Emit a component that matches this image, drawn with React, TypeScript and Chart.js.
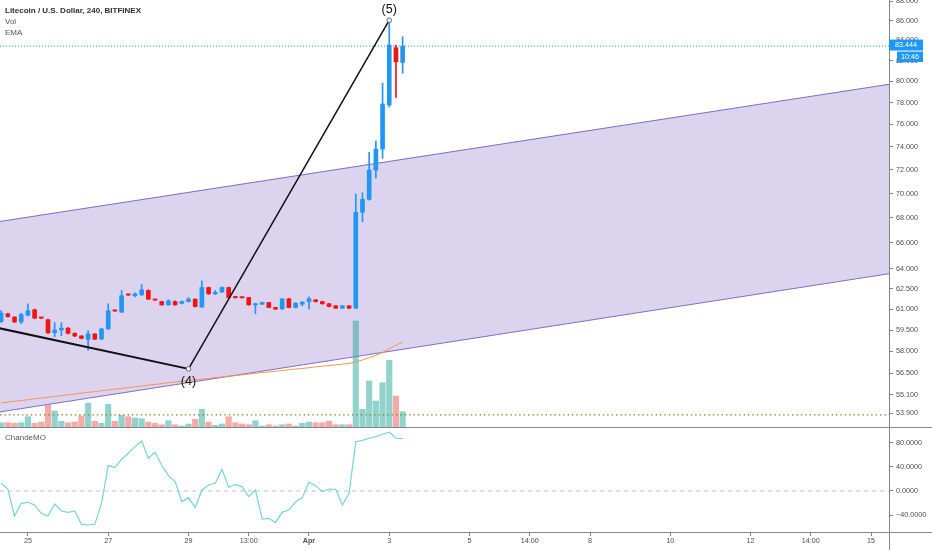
import React, { useEffect, useRef } from 'react';
import { Chart, registerables } from 'chart.js';

Chart.register(...registerables);

// ---------- text ----------
const TITLE = 'Litecoin / U.S. Dollar, 240, BITFINEX';
const LEGEND_ITEMS = ['Vol', 'EMA'];
const OSC_TITLE = 'ChandeMO';
const COUNTDOWN = '10:46';

// ---------- time axis (days relative to 25 Mar 00:00, candles of 4h) ----------
const FIRST_CANDLE_DAY = -16 / 24;
const CANDLE_DAYS = 4 / 24;

// ---------- candles ----------
const opens = [60.10, 60.66, 60.42, 60.08, 60.56, 60.95, 60.38, 60.23, 59.31, 59.50, 59.63, 59.27, 59.08, 58.84, 59.22, 58.86, 59.58, 60.90, 60.78, 62.07, 61.98, 62.05, 62.37, 61.70, 61.55, 61.31, 61.55, 61.42, 61.55, 61.73, 61.15, 62.59, 62.12, 62.25, 62.59, 61.87, 61.86, 61.85, 61.31, 61.36, 61.48, 61.12, 61.02, 61.75, 61.12, 61.36, 61.55, 61.68, 61.55, 61.39, 61.24, 61.07, 61.24, 61.07, 68.46, 69.52, 71.99, 73.81, 77.79, 83.28, 81.84];
const highs = [60.90, 60.70, 60.46, 60.70, 61.39, 61.00, 60.40, 60.28, 60.03, 60.03, 59.70, 59.30, 59.10, 59.45, 59.25, 59.62, 61.39, 60.93, 62.37, 62.10, 62.20, 62.81, 62.42, 61.72, 61.58, 61.68, 61.60, 61.60, 61.85, 61.76, 63.09, 62.62, 62.37, 62.65, 62.62, 61.88, 61.87, 61.86, 61.44, 61.52, 61.50, 61.14, 61.78, 61.78, 61.47, 61.56, 61.90, 61.70, 61.58, 61.42, 61.26, 61.27, 61.26, 69.96, 70.07, 73.52, 74.52, 79.83, 86.05, 83.55, 84.38];
const lows = [60.05, 60.42, 60.03, 59.95, 60.50, 60.30, 60.30, 59.25, 59.03, 59.10, 59.22, 59.03, 58.88, 58.09, 58.82, 58.82, 59.55, 60.83, 60.75, 62.00, 61.90, 62.00, 61.70, 61.63, 61.28, 61.28, 61.28, 61.38, 61.52, 61.15, 61.12, 62.08, 62.08, 62.22, 61.80, 61.80, 61.80, 61.28, 60.66, 61.33, 61.10, 60.97, 60.98, 61.08, 61.08, 61.24, 61.02, 61.52, 61.36, 61.16, 61.04, 61.04, 61.04, 61.03, 67.69, 69.45, 71.31, 72.99, 77.60, 78.50, 80.78];
const closes = [60.71, 60.46, 60.08, 60.61, 60.88, 60.35, 60.35, 59.31, 59.50, 59.63, 59.27, 59.08, 58.91, 59.22, 58.86, 59.58, 60.88, 60.86, 61.98, 62.03, 62.12, 62.42, 61.73, 61.66, 61.31, 61.60, 61.31, 61.55, 61.73, 61.19, 62.59, 62.12, 62.23, 62.59, 61.85, 61.84, 61.83, 61.31, 61.36, 61.48, 61.12, 61.00, 61.75, 61.12, 61.44, 61.51, 61.75, 61.55, 61.39, 61.19, 61.07, 61.24, 61.07, 68.46, 69.52, 71.99, 73.81, 77.88, 83.55, 81.90, 83.444];
// volume, thousand LTC
const volumes = [4.3, 4.3, 3.7, 4.3, 10.3, 3.7, 5.0, 21.7, 16.0, 5.7, 4.3, 5.0, 11.0, 23.7, 5.7, 3.7, 22.7, 5.7, 11.7, 10.3, 9.0, 8.3, 5.0, 3.7, 2.3, 6.3, 2.3, 1.0, 3.0, 7.7, 17.7, 5.0, 1.7, 3.0, 10.3, 4.3, 3.0, 2.3, 6.3, 1.0, 2.3, 1.0, 2.3, 3.0, 1.0, 3.7, 5.0, 4.3, 4.3, 5.7, 2.3, 2.3, 2.3, 106.0, 17.7, 46.0, 26.0, 44.3, 66.7, 31.0, 15.3];
const ema = [54.55, 54.60, 54.66, 54.71, 54.76, 54.82, 54.87, 54.92, 54.97, 55.03, 55.08, 55.13, 55.19, 55.24, 55.29, 55.35, 55.40, 55.45, 55.50, 55.56, 55.61, 55.66, 55.72, 55.77, 55.82, 55.88, 55.93, 55.98, 56.03, 56.08, 56.12, 56.17, 56.22, 56.27, 56.32, 56.36, 56.41, 56.46, 56.51, 56.56, 56.60, 56.65, 56.70, 56.75, 56.80, 56.84, 56.89, 56.94, 56.99, 57.04, 57.08, 57.13, 57.18, 57.29, 57.42, 57.57, 57.73, 57.93, 58.19, 58.43, 58.66];
const cmo = [12.7, 3.3, -41.3, -20.4, -18.7, -23.1, -36.9, -41.3, -21.5, -33.1, -35.3, -33.1, -55.1, -56.2, -55.1, -20.4, 41.9, 38.6, 52.3, 62.3, 73.3, 82.6, 54.0, 63.9, 43.0, 25.3, 15.4, -17.6, -11.0, -27.5, 1.7, 9.9, 12.7, 35.8, 6.1, 11.0, 7.2, -9.4, 1.7, -46.3, -45.2, -52.3, -35.3, -31.4, -17.6, -11.0, 14.3, 8.8, -1.1, 3.3, 2.8, -23.1, -3.9, 81.5, 83.7, 87.1, 89.8, 93.7, 97.0, 87.1, 86.4];

// ---------- drawings ----------
const channelDays = [-0.70, 21.45];
const channelUpper = [67.71, 79.73];
const channelLower = [53.97, 63.63];
const waveDays = [-0.70, 4.0, 9.0];
const wavePrices = [59.62, 56.81, 86.05];
const waveLabels = ['', '(4)', '(5)'];
const supportLevel = 53.78;

// ---------- axes ----------
const priceTicks = [53.9, 55.1, 56.5, 58, 59.5, 61, 62.5, 64, 66, 68, 70, 72, 74, 76, 78, 80, 82, 84, 86, 88];
const cmoTicks = [-40, 0, 40, 80];
const xTickDays = [0, 2, 4, 5.5, 7, 9, 11, 12.5, 14, 16, 18, 19.5, 21];
const xTickLabels = ['25', '27', '29', '13:00', 'Apr', '3', '5', '14:00', '8', '10', '12', '14:00', '15'];

// ---------- view ----------
const X_MIN = -0.695;
const X_MAX = 21.447;
const PRICE_MIN = 53.01;
const PRICE_MAX = 88.15;
const VOL_MAX = 427;
const CMO_MIN = -67.8;
const CMO_MAX = 104.1;

const W = 932;
const MAIN_H = 427;
const OSC_H = 123;
const AXIS_W = 43;
const XAXIS_H = 18;

const FONT = "'Liberation Sans', Arial, sans-serif";
const AXIS_COLOR = '#858585';
const TEXT_COLOR = '#4d4d4d';
const UP = '#2196F3';
const DOWN = '#ef1515';
const VOL_UP = 'rgba(38,166,154,0.5)';
const VOL_DOWN = 'rgba(239,83,80,0.5)';

const candleDays = opens.map((_, i) => FIRST_CANDLE_DAY + i * CANDLE_DAYS);
const isUp = opens.map((o, i) => closes[i] >= o);

const yAxisFit = (s: any) => {
  s.width = AXIS_W;
  s.paddingTop = 0;
  s.paddingBottom = 0;
};

const tickFont = { family: FONT, size: 7.2 };

const mainOverlay = {
  id: 'mainOverlay',
  afterDraw(chart: any) {
    const { ctx, chartArea, scales } = chart;
    const xs = scales.x;
    const ys = scales.y;
    ctx.save();
    ctx.strokeStyle = AXIS_COLOR;
    ctx.lineWidth = 1;
    ctx.beginPath();
    ctx.moveTo(chartArea.right + 0.5, 0);
    ctx.lineTo(chartArea.right + 0.5, chart.height);
    ctx.stroke();

    ctx.fillStyle = '#111';
    ctx.font = `12.5px ${FONT}`;
    ctx.textAlign = 'center';
    ctx.textBaseline = 'middle';
    waveLabels.forEach((lab, i) => {
      if (!lab) return;
      const px = xs.getPixelForValue(waveDays[i]);
      const py = ys.getPixelForValue(wavePrices[i]);
      const prev = wavePrices[i - 1];
      const trough = prev !== undefined && prev > wavePrices[i];
      ctx.fillText(lab, px, trough ? py + 12.5 : py - 10.5);
    });

    const last = closes[closes.length - 1];
    const py = ys.getPixelForValue(last);
    const left = chartArea.right;
    ctx.fillStyle = UP;
    ctx.fillRect(left, py - 6.5, 34, 11);
    ctx.fillRect(left + 8, py + 5.5, 26, 10.5);
    ctx.fillStyle = '#fff';
    ctx.font = `7.2px ${FONT}`;
    ctx.fillText(last.toFixed(3), left + 17, py - 1);
    ctx.fillText(COUNTDOWN, left + 21, py + 10.8);
    ctx.restore();
  },
};

const oscOverlay = {
  id: 'oscOverlay',
  afterDraw(chart: any) {
    const { ctx, chartArea } = chart;
    ctx.save();
    ctx.strokeStyle = AXIS_COLOR;
    ctx.lineWidth = 1;
    ctx.beginPath();
    ctx.moveTo(0, 0.5);
    ctx.lineTo(chart.width, 0.5);
    ctx.moveTo(0, chartArea.bottom + 0.5);
    ctx.lineTo(chart.width, chartArea.bottom + 0.5);
    ctx.moveTo(chartArea.right + 0.5, 0);
    ctx.lineTo(chartArea.right + 0.5, chart.height);
    ctx.stroke();
    ctx.restore();
  },
};

export default function App() {
  const mainRef = useRef<HTMLCanvasElement>(null);
  const oscRef = useRef<HTMLCanvasElement>(null);

  useEffect(() => {
    document.body.style.margin = '0';

    const main = new Chart(mainRef.current as HTMLCanvasElement, {
      type: 'line',
      data: {
        datasets: [
          {
            type: 'line',
            data: channelDays.map((d, i) => ({ x: d, y: channelLower[i] })),
            borderColor: 'rgba(120,100,195,0.95)',
            borderWidth: 1,
            pointRadius: 0,
            fill: false,
            order: 8,
          },
          {
            type: 'line',
            data: channelDays.map((d, i) => ({ x: d, y: channelUpper[i] })),
            borderColor: 'rgba(120,100,195,0.95)',
            backgroundColor: 'rgba(149,122,205,0.33)',
            borderWidth: 1,
            pointRadius: 0,
            fill: '-1',
            order: 7,
          },
          {
            type: 'bar',
            yAxisID: 'yVol',
            data: candleDays.map((d, i) => ({ x: d, y: volumes[i] })),
            backgroundColor: isUp.map((u) => (u ? VOL_UP : VOL_DOWN)),
            borderWidth: 0,
            grouped: false,
            barThickness: 5.5,
            maxBarThickness: 5.5,
            order: 6,
          },
          {
            type: 'line',
            data: [{ x: X_MIN, y: supportLevel }, { x: X_MAX, y: supportLevel }],
            borderColor: '#6f8a1f',
            borderWidth: 1.4,
            borderDash: [1.4, 3],
            pointRadius: 0,
            fill: false,
            order: 5,
          },
          {
            type: 'line',
            data: [{ x: X_MIN, y: closes[closes.length - 1] }, { x: X_MAX, y: closes[closes.length - 1] }],
            borderColor: UP,
            borderWidth: 1,
            borderDash: [1, 2],
            pointRadius: 0,
            fill: false,
            order: 4,
          },
          {
            type: 'line',
            data: candleDays.map((d, i) => ({ x: d, y: ema[i] })),
            borderColor: 'rgba(245,145,70,0.95)',
            borderWidth: 1,
            pointRadius: 0,
            fill: false,
            order: 3,
          },
          {
            type: 'bar',
            data: candleDays.map((d, i) => ({ x: d, y: [lows[i], highs[i]] })),
            backgroundColor: isUp.map((u) => (u ? UP : DOWN)),
            borderWidth: 0,
            grouped: false,
            barThickness: 1,
            maxBarThickness: 1,
            order: 2,
          },
          {
            type: 'bar',
            data: candleDays.map((d, i) => ({ x: d, y: [opens[i], closes[i]] })),
            backgroundColor: isUp.map((u) => (u ? UP : DOWN)),
            borderWidth: 0,
            grouped: false,
            barThickness: 4,
            maxBarThickness: 4,
            minBarLength: 1.2,
            order: 1,
          },
          {
            type: 'line',
            data: waveDays.map((d, i) => ({ x: d, y: wavePrices[i] })),
            borderColor: '#111',
            borderWidth: 1.6,
            segment: { borderWidth: (c: any) => (c.p0DataIndex === 0 ? 2 : 1.5) },
            pointRadius: waveDays.map((_, i) => (i === 0 ? 0 : 2.3)),
            pointBackgroundColor: '#fff',
            pointBorderColor: '#666',
            pointBorderWidth: 1,
            fill: false,
            order: 0,
          },
        ] as any,
      },
      options: {
        animation: false,
        responsive: false,
        events: [],
        layout: { padding: 0, autoPadding: false },
        plugins: { legend: { display: false }, tooltip: { enabled: false } },
        scales: {
          x: { type: 'linear', min: X_MIN, max: X_MAX, display: false, offset: false, bounds: 'data' },
          y: {
            type: 'logarithmic',
            position: 'right',
            min: PRICE_MIN,
            max: PRICE_MAX,
            bounds: 'data',
            afterBuildTicks: (s: any) => {
              s.ticks = priceTicks.map((v) => ({ value: v }));
            },
            afterFit: yAxisFit,
            ticks: {
              callback: (v: any) => Number(v).toFixed(3),
              autoSkip: false,
              font: tickFont,
              color: TEXT_COLOR,
              padding: 3,
            },
            grid: { display: true, drawOnChartArea: false, drawTicks: true, tickLength: 4, color: AXIS_COLOR },
            border: { display: false },
          },
          yVol: { type: 'linear', display: false, min: 0, max: VOL_MAX },
        },
      } as any,
      plugins: [mainOverlay],
    });

    const osc = new Chart(oscRef.current as HTMLCanvasElement, {
      type: 'line',
      data: {
        datasets: [
          {
            data: [{ x: X_MIN, y: 0 }, { x: X_MAX, y: 0 }],
            borderColor: '#c4c4c4',
            borderWidth: 1,
            borderDash: [4, 4],
            pointRadius: 0,
            fill: false,
            order: 2,
          },
          {
            data: candleDays.map((d, i) => ({ x: d, y: cmo[i] })),
            borderColor: '#78d3d8',
            borderWidth: 1.2,
            pointRadius: 0,
            fill: false,
            order: 1,
          },
        ] as any,
      },
      options: {
        animation: false,
        responsive: false,
        events: [],
        layout: { padding: { top: 1, left: 0, right: 0, bottom: 0 }, autoPadding: false },
        plugins: { legend: { display: false }, tooltip: { enabled: false } },
        scales: {
          x: {
            type: 'linear',
            min: X_MIN,
            max: X_MAX,
            offset: false,
            bounds: 'data',
            afterBuildTicks: (s: any) => {
              s.ticks = xTickDays.map((v) => ({ value: v }));
            },
            afterFit: (s: any) => {
              s.height = XAXIS_H;
              s.paddingLeft = 0;
              s.paddingRight = 0;
            },
            ticks: {
              callback: (v: any) => xTickLabels[xTickDays.indexOf(Number(v))],
              autoSkip: false,
              maxRotation: 0,
              font: (c: any) => ({
                family: FONT,
                size: 7.2,
                weight: c.tick && c.tick.value === 7 ? 'bold' : 'normal',
              }),
              color: TEXT_COLOR,
              padding: 1,
            },
            grid: { display: true, drawOnChartArea: false, drawTicks: true, tickLength: 4, color: AXIS_COLOR },
            border: { display: false },
          },
          y: {
            type: 'linear',
            position: 'right',
            min: CMO_MIN,
            max: CMO_MAX,
            bounds: 'data',
            afterBuildTicks: (s: any) => {
              s.ticks = cmoTicks.map((v) => ({ value: v }));
            },
            afterFit: yAxisFit,
            ticks: {
              callback: (v: any) => (Number(v) < 0 ? '\u2212' : '') + Math.abs(Number(v)).toFixed(4),
              autoSkip: false,
              font: tickFont,
              color: TEXT_COLOR,
              padding: 3,
            },
            grid: { display: true, drawOnChartArea: false, drawTicks: true, tickLength: 4, color: AXIS_COLOR },
            border: { display: false },
          },
        },
      } as any,
      plugins: [oscOverlay],
    });

    return () => {
      main.destroy();
      osc.destroy();
    };
  }, []);

  const textBase: React.CSSProperties = {
    position: 'absolute',
    left: 5,
    fontFamily: FONT,
    fontSize: 8,
    lineHeight: '10px',
    whiteSpace: 'nowrap',
    color: '#555',
  };

  return (
    <div
      style={{
        position: 'fixed',
        left: 0,
        top: 0,
        width: W,
        height: MAIN_H + OSC_H,
        background: '#fff',
        overflow: 'hidden',
      }}
    >
      <canvas
        ref={mainRef}
        width={W}
        height={MAIN_H}
        style={{ position: 'absolute', left: 0, top: 0, width: W, height: MAIN_H }}
      />
      <canvas
        ref={oscRef}
        width={W}
        height={OSC_H}
        style={{ position: 'absolute', left: 0, top: MAIN_H, width: W, height: OSC_H }}
      />
      <div style={{ ...textBase, top: 6, fontWeight: 'bold', color: '#2f2f2f' }}>{TITLE}</div>
      {LEGEND_ITEMS.map((t, i) => (
        <div key={t} style={{ ...textBase, top: 17 + i * 11 }}>
          {t}
        </div>
      ))}
      <div style={{ ...textBase, top: MAIN_H + 6 }}>{OSC_TITLE}</div>
    </div>
  );
}
